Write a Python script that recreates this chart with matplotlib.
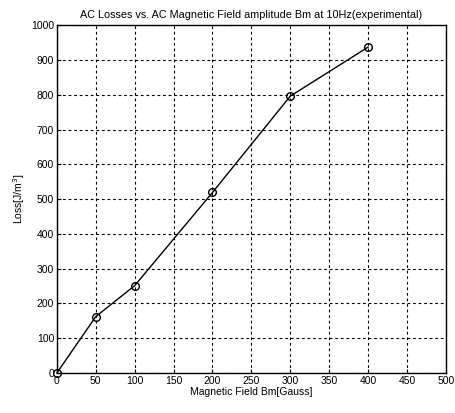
import matplotlib
matplotlib.use("Agg")
import matplotlib.pyplot as plt

field_gauss = [0, 50, 100, 200, 300, 400]
loss_jm3 = [0, 162, 251, 519, 796, 937]
x_ticks = [0, 50, 100, 150, 200, 250, 300, 350, 400, 450, 500]
y_ticks = [0, 100, 200, 300, 400, 500, 600, 700, 800, 900, 1000]

plt.rcParams['font.family'] = ['Liberation Sans', 'DejaVu Sans']

fig = plt.figure(figsize=(4.55, 4.13), dpi=100)
ax = fig.add_axes([0.125, 0.097, 0.855, 0.842])
ax.plot(field_gauss, loss_jm3, color='black', lw=1.0, marker='o', ms=5.5,
        mfc='none', mec='black', mew=1.0, clip_on=False, zorder=3)
ax.set_xlim(0, 500)
ax.set_ylim(0, 1000)
ax.set_xticks(x_ticks)
ax.set_yticks(y_ticks)
ax.tick_params(direction='in', length=3, labelsize=7.5, colors='black', pad=2)
ax.grid(True, color='black', linestyle=(0, (2.5, 2.5)), linewidth=0.8)
for s in ax.spines.values():
    s.set_color('black')
    s.set_linewidth(1.0)
ax.set_title('AC Losses vs. AC Magnetic Field amplitude Bm at 10Hz(experimental)',
             fontsize=7.8, pad=5)
ax.set_xlabel('Magnetic Field Bm[Gauss]', fontsize=7.5, labelpad=1)
ax.set_ylabel('Loss[J/m$^3$]', fontsize=7.5, labelpad=3)
fig.savefig('out.png', dpi=100)
